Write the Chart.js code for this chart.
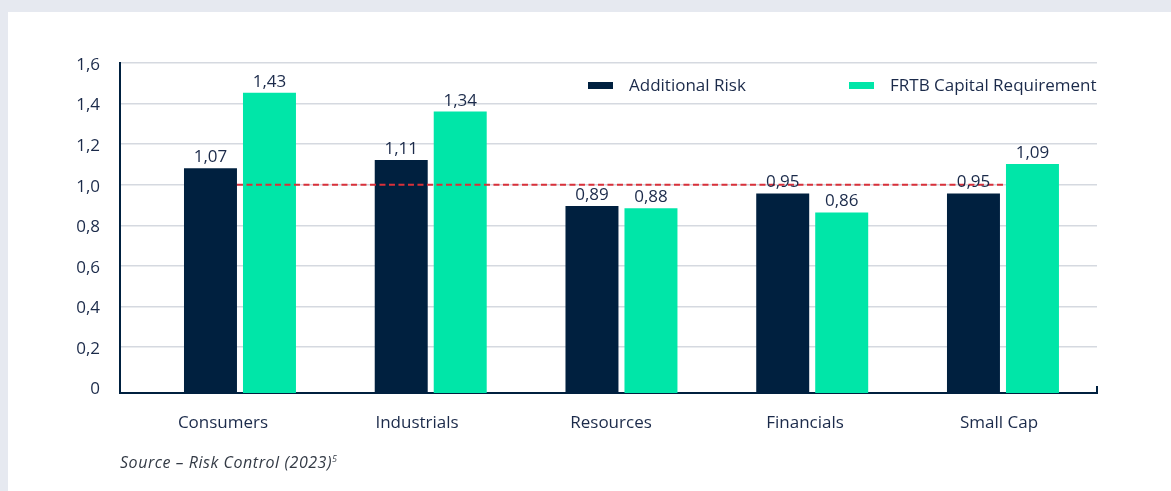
<!DOCTYPE html>
<html>
<head>
<meta charset="utf-8">
<script src="https://cdn.jsdelivr.net/npm/chart.js@4.4.1/dist/chart.umd.min.js"></script>
<style>
  html, body { margin: 0; padding: 0; }
  body { width: 1171px; height: 491px; background: #e6e9f0; position: relative; overflow: hidden; font-family: "Open Sans", sans-serif; }
  #panel { position: absolute; left: 8px; top: 12px; right: 0; bottom: 0; background: #ffffff; }
  #wrap { position: absolute; left: 0; top: 0; width: 1171px; height: 491px; }
  .legend-item { position: absolute; top: 74px; height: 20px; display: flex; align-items: center; font-size: 17px; color: #1b2a4a; white-space: nowrap; }
  .legend-box { width: 25px; height: 7px; margin-right: 16px; margin-top: 2px; }
  #source { position: absolute; left: 120px; top: 451px; font-style: italic; font-size: 16px; letter-spacing: 0.55px; color: #333a45; white-space: nowrap; }
  #source sup { font-size: 9px; letter-spacing: 0; }
</style>
</head>
<body>
<div id="panel"></div>
<div id="wrap"><canvas id="c"></canvas></div>
<div id="legend"></div>
<div id="source">Source – Risk Control (2023)<sup>5</sup></div>
<script>
const categories = ['Consumers', 'Industrials', 'Resources', 'Financials', 'Small Cap'];
const additionalRisk = [1.07, 1.11, 0.89, 0.95, 0.95];
const frtbCapital = [1.43, 1.34, 0.88, 0.86, 1.09];
const seriesNames = ['Additional Risk', 'FRTB Capital Requirement'];
const yTicks = [0, 0.2, 0.4, 0.6, 0.8, 1.0, 1.2, 1.4, 1.6];
const referenceLevel = 1.0;

const NAVY = '#00203f';
const GREEN = '#00e6a8';
const TEXT = '#1b2a4a';
const RED = '#d9303a';
const FONT = '"Open Sans", sans-serif';

const fmt = (v, d) => v.toFixed(d).replace('.', ',');
const toPoints = arr => arr.map((v, i) => ({ x: i, y: v }));
const catIndex = categories.map((_, i) => i);

const overlayPlugin = {
  id: 'overlay',
  afterDatasetsDraw(chart) {
    const ctx = chart.ctx;
    const area = chart.chartArea;
    const yGrid = chart.scales.y;
    const m0 = chart.getDatasetMeta(0).data;
    const m1 = chart.getDatasetMeta(1).data;
    // reference dashed line
    const first = m0[0], last = m1[m1.length - 1];
    const x1 = first.x + first.width / 2;
    const x2 = last.x - last.width / 2;
    const yy = yGrid.getPixelForValue(referenceLevel);
    ctx.save();
    ctx.strokeStyle = RED;
    ctx.lineWidth = 2;
    ctx.setLineDash([6, 3.5]);
    ctx.beginPath();
    ctx.moveTo(x1, yy);
    ctx.lineTo(x2, yy);
    ctx.stroke();
    ctx.setLineDash([]);
    // right end tick on x axis
    ctx.strokeStyle = NAVY;
    ctx.lineWidth = 2;
    ctx.beginPath();
    ctx.moveTo(area.right, area.bottom - 7);
    ctx.lineTo(area.right, area.bottom + 1);
    ctx.stroke();
    // value labels
    ctx.fillStyle = TEXT;
    ctx.font = '17px ' + FONT;
    ctx.textAlign = 'center';
    ctx.textBaseline = 'alphabetic';
    chart.data.datasets.forEach((ds, di) => {
      chart.getDatasetMeta(di).data.forEach((el, i) => {
        ctx.fillText(fmt(ds.data[i].y, 2), el.x, el.y - 6);
      });
    });
    ctx.restore();
  }
};

const chart = new Chart(document.getElementById('c'), {
  type: 'bar',
  data: {
    datasets: [
      { label: seriesNames[0], data: toPoints(additionalRisk), backgroundColor: NAVY, xAxisID: 'xb', yAxisID: 'yb', categoryPercentage: 0.6186, barPercentage: 0.898 },
      { label: seriesNames[1], data: toPoints(frtbCapital), backgroundColor: GREEN, xAxisID: 'xb', yAxisID: 'yb', categoryPercentage: 0.6186, barPercentage: 0.898 }
    ]
  },
  options: {
    responsive: true,
    maintainAspectRatio: false,
    animation: false,
    layout: { padding: { top: 63, right: 74, bottom: 0, left: 0 } },
    plugins: { legend: { display: false }, tooltip: { enabled: false } },
    scales: {
      x: {
        type: 'linear',
        position: 'bottom',
        offset: false,
        bounds: 'data',
        min: -0.531,
        max: 4.505,
        afterBuildTicks: s => { s.ticks = catIndex.map(v => ({ value: v })); },
        grid: { offset: false, drawOnChartArea: false, drawTicks: false },
        border: { display: true, color: NAVY, width: 2 },
        ticks: {
          color: TEXT, font: { family: FONT, size: 17 }, padding: 20, autoSkip: false, maxRotation: 0,
          callback: v => categories[v]
        },
        afterFit: s => { s.height = 98; }
      },
      xb: {
        type: 'linear',
        position: 'bottom',
        display: false,
        offset: false,
        bounds: 'data',
        min: -0.629,
        max: 4.493,
        grid: { offset: false },
        afterBuildTicks: s => { s.ticks = catIndex.map(v => ({ value: v })); }
      },
      y: {
        position: 'left',
        min: -0.027,
        max: 1.6,
        afterBuildTicks: s => { s.ticks = yTicks.map(v => ({ value: v })); },
        grid: {
          drawTicks: false,
          color: c => (c.tick && c.tick.value === 0) ? 'rgba(0,0,0,0)' : '#d5d9e0',
          lineWidth: 1.5
        },
        border: { display: true, color: NAVY, width: 2 },
        ticks: {
          color: TEXT, font: { family: FONT, size: 17 }, padding: 20, labelOffset: 2,
          callback: v => v === 0 ? '0' : fmt(v, 1)
        },
        afterFit: s => { s.width = 120; }
      },
      yb: {
        display: false,
        min: 0,
        max: 1.5714
      }
    }
  },
  plugins: [overlayPlugin]
});

// legend (HTML)
const legendEl = document.getElementById('legend');
const legendLeft = [588, 849];
chart.data.datasets.forEach((ds, i) => {
  const item = document.createElement('div');
  item.className = 'legend-item';
  item.style.left = legendLeft[i] + 'px';
  const box = document.createElement('span');
  box.className = 'legend-box';
  box.style.background = ds.backgroundColor;
  const txt = document.createElement('span');
  txt.textContent = ds.label;
  item.appendChild(box);
  item.appendChild(txt);
  legendEl.appendChild(item);
});
</script>
</body>
</html>
